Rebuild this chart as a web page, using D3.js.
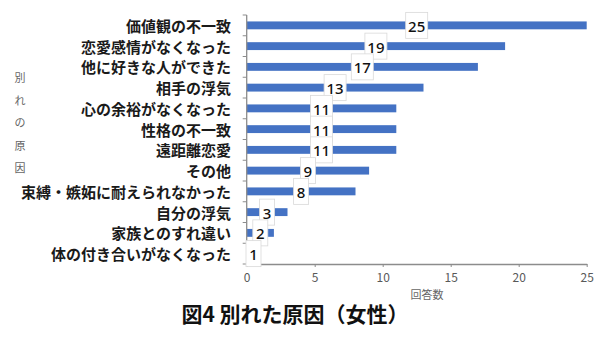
<!DOCTYPE html>
<html><head><meta charset="utf-8">
<script src="https://cdn.jsdelivr.net/npm/d3@7"></script>
<style>body{margin:0;background:#fff}</style>
</head><body>
<svg id="c" width="600" height="337"></svg>
<script>
const categories = ["価値観の不一致","恋愛感情がなくなった","他に好きな人ができた","相手の浮気","心の余裕がなくなった","性格の不一致","遠距離恋愛","その他","束縛・嫉妬に耐えられなかった","自分の浮気","家族とのすれ違い","体の付き合いがなくなった"];
const values = [25,19,17,13,11,11,11,9,8,3,2,1];
const xTicks = [0,5,10,15,20,25];
const title = "図4 別れた原因（女性）";
const yTitle = "別れの原因";
const xTitle = "回答数";

const font = "'Noto Sans CJK JP', 'Noto Sans', sans-serif";
const svg = d3.select("#c");
const m = {l:246.7, r:586.7, t:15, b:264};
const x = d3.scaleLinear().domain([0,25]).range([m.l, m.r]);
const y = d3.scaleBand().domain(categories).range([m.t, m.b]).paddingInner(0.62).paddingOuter(0.31);

// bars
svg.append("g").selectAll("rect").data(values).join("rect")
  .attr("x", x(0)).attr("y", (d,i)=>y(categories[i]))
  .attr("width", d=>x(d)-x(0)).attr("height", y.bandwidth())
  .attr("fill", "#4472C4");

// x axis
const xa = svg.append("g").attr("transform", `translate(0,${m.b})`)
  .call(d3.axisBottom(x).tickValues(xTicks).tickSize(3).tickSizeOuter(0).tickPadding(6));
xa.select(".domain").attr("stroke", "#8c8c8c").attr("stroke-width", 1.3);
xa.selectAll(".tick line").attr("stroke", "#8c8c8c");
xa.selectAll("text").attr("fill", "#595959").style("font-family", font).style("font-size", "12px");

// y axis line and ticks at band boundaries
const yb = d3.scaleLinear().domain([0, categories.length]).range([m.t, m.b]);
svg.append("line").attr("x1", m.l).attr("x2", m.l).attr("y1", m.t).attr("y2", m.b)
  .attr("stroke", "#8c8c8c").attr("stroke-width", 1.3);
svg.append("g").selectAll("line").data(d3.range(categories.length+1)).join("line")
  .attr("x1", m.l-4).attr("x2", m.l).attr("y1", d=>yb(d)).attr("y2", d=>yb(d))
  .attr("stroke", "#8c8c8c");

// category labels
svg.append("g").selectAll("text").data(categories).join("text")
  .attr("x", 231).attr("y", d=>y(d)+y.bandwidth()/2)
  .attr("text-anchor", "end").attr("dominant-baseline", "central")
  .style("font-family", font).style("font-size", "15px").style("font-weight", "bold")
  .attr("fill", "#1a1a1a").text(d=>d);

// data labels
const lg = svg.append("g").selectAll("g").data(values).join("g")
  .attr("transform", (d,i)=>`translate(${x(d/2)},${y(categories[i])+y.bandwidth()/2})`);
lg.append("rect")
  .attr("x", d=>String(d).length>1 ? -11 : -7.5)
  .attr("width", d=>String(d).length>1 ? 22 : 15)
  .attr("y", -13).attr("height", 26)
  .attr("fill", "#fff").attr("stroke", "#d9d9d9").attr("stroke-width", 0.8);
lg.append("text").attr("text-anchor", "middle").attr("dominant-baseline", "central")
  .attr("y", 0.5)
  .style("font-family", "'Noto Sans', sans-serif").style("font-size", "15px").style("font-weight", "500")
  .attr("fill", "#111").text(d=>d);

// y title (stacked vertical)
svg.append("g").selectAll("text").data(Array.from(yTitle)).join("text")
  .attr("x", 20).attr("y", (d,i)=>77+i*22.5)
  .attr("text-anchor", "middle").attr("dominant-baseline", "central")
  .style("font-family", font).style("font-size", "11px").attr("fill", "#666").text(d=>d);

// x title
svg.append("text").attr("x", 427).attr("y", 294).attr("text-anchor", "middle")
  .attr("dominant-baseline", "central")
  .style("font-family", font).style("font-size", "11px").attr("fill", "#666").text(xTitle);

// main title
svg.append("text").attr("x", 295).attr("y", 313).attr("text-anchor", "middle")
  .attr("dominant-baseline", "central")
  .style("font-family", font).style("font-size", "21px").style("font-weight", "bold")
  .attr("fill", "#111").text(title);
</script>
</body></html>
